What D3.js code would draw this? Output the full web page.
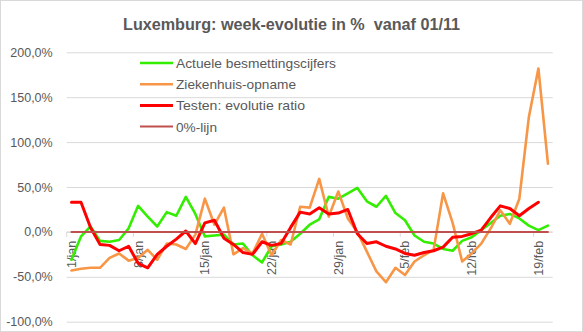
<!DOCTYPE html>
<html>
<head>
<meta charset="utf-8">
<script src="https://cdn.jsdelivr.net/npm/d3@7"></script>
<style>
  html, body { margin: 0; padding: 0; background: #fff; }
  svg { display: block; font-family: "Liberation Sans", Arial, sans-serif; }
</style>
</head>
<body>
<svg id="chart" width="583" height="332"></svg>
<script>
const categories = ["1/jan","2/jan","3/jan","4/jan","5/jan","6/jan","7/jan","8/jan","9/jan","10/jan",
  "11/jan","12/jan","13/jan","14/jan","15/jan","16/jan","17/jan","18/jan","19/jan","20/jan",
  "21/jan","22/jan","23/jan","24/jan","25/jan","26/jan","27/jan","28/jan","29/jan","30/jan",
  "31/jan","1/feb","2/feb","3/feb","4/feb","5/feb","6/feb","7/feb","8/feb","9/feb",
  "10/feb","11/feb","12/feb","13/feb","14/feb","15/feb","16/feb","17/feb","18/feb","19/feb","20/feb"];
const tickLabels = ["1/jan","8/jan","15/jan","22/jan","29/jan","5/feb","12/feb","19/feb"];
const yTicks = [-100, -50, 0, 50, 100, 150, 200];

const besmetting = [-31,-5,6,-10,-11,-9,4,29,17,6,22,18,39,20,-5,-4,-3,-14,-13,-26,
  -34,-16,-14,-11,-2,8,14,39,37,43,49,34,28,40,21,13,-4,-11,-13,-19,
  -21,-10,-6,2,10,18,20,15,7,2,7];
const ziekenhuis = [-43,-41,-40,-40,-29,-24,-32,-29,-20,-31,-13,-14,-19,-3,37,8,27,-25,-18,-24,
  -2,-26,-9,-14,28,27,59,17,45,15,0,-22,-44,-56,-40,-48,-33,-26,-20,43,
  10,-33,-24,-13,4,24,9,37,128,182,76];
const testen = [33,33,5,-14,-15,-21,-16,-35,-40,-25,-16,-8,1,-13,10,13,-7,-14,-23,-25,
  -11,-15,-13,5,22,20,27,20,21,25,-2,-13,-11,-16,-19,-24,-26,-23,-21,-17,
  -6,-5,-2,2,16,29,26,18,26,33];
const nulLijn = categories.map(() => 0);

const series = [
  { name: "Actuele besmettingscijfers", values: besmetting, color: "#33EE00", width: 2.6 },
  { name: "Ziekenhuis-opname", values: ziekenhuis, color: "#F79646", width: 2.6 },
  { name: "Testen: evolutie ratio", values: testen, color: "#FF0000", width: 3 },
  { name: "0%-lijn", values: nulLijn, color: "#C0504D", width: 2 }
];
const legendTextWidths = [160, 120, 129, 41];

const svg = d3.select("#chart");
const W = 583, H = 332;
const plot = { left: 66.7, right: 552.7, top: 52.3, bottom: 321.7 };
const textColor = "#595959";

// outer border
svg.append("rect").attr("x", 0.5).attr("y", 0.5).attr("width", W - 1).attr("height", H - 1)
  .attr("fill", "#fff").attr("stroke", "#D9D9D9");

const x = d3.scaleBand().domain(categories).range([plot.left, plot.right]).padding(0);
const y = d3.scaleLinear().domain([-100, 200]).range([plot.bottom, plot.top]);

// gridlines + y labels
const yAxis = d3.axisLeft(y).tickValues(yTicks).tickSize(-(plot.right - plot.left))
  .tickFormat(d => d.toFixed(1).replace(".", ",") + "%").tickPadding(14);
const gy = svg.append("g").attr("transform", `translate(${plot.left},0)`).call(yAxis);
gy.select(".domain").remove();
gy.selectAll(".tick line").attr("stroke", "#D9D9D9").attr("stroke-width", 1);
gy.selectAll(".tick text").attr("fill", textColor).attr("font-size", "12.5px")
  .attr("font-family", "Liberation Sans, Arial, sans-serif");

// x axis at 0
const x0 = y(0);
svg.append("line").attr("x1", plot.left).attr("x2", plot.right).attr("y1", x0).attr("y2", x0)
  .attr("stroke", "#D9D9D9");
const tickCats = categories.filter(c => tickLabels.includes(c));
svg.selectAll(".xtick").data(tickCats).enter().append("line")
  .attr("x1", d => x(d)).attr("x2", d => x(d))
  .attr("y1", x0).attr("y2", x0 + 5).attr("stroke", "#D9D9D9");
svg.selectAll(".xlab").data(tickCats).enter().append("text")
  .attr("transform", d => `translate(${x(d) + x.bandwidth() / 2 + 4.5},${x0 + 9}) rotate(-90)`)
  .attr("text-anchor", "end").attr("fill", textColor).attr("font-size", "12.5px")
  .text(d => d);

// lines
const line = d3.line().x((d, i) => x(categories[i]) + x.bandwidth() / 2).y(d => y(d));
series.forEach(s => {
  svg.append("path").datum(s.values).attr("d", line).attr("fill", "none")
    .attr("stroke", s.color).attr("stroke-width", s.width)
    .attr("stroke-linejoin", "round").attr("stroke-linecap", "round");
});

// title
svg.append("text").attr("x", 123).attr("y", 30)
  .attr("font-weight", "bold").attr("font-size", "16px").attr("fill", textColor)
  .attr("textLength", 337).attr("lengthAdjust", "spacingAndGlyphs")
  .style("white-space", "pre")
  .text("Luxemburg: week-evolutie in %  vanaf 01/11");

// legend
const lg = svg.append("g");
series.forEach((s, i) => {
  const ly = 63 + i * 21.2;
  lg.append("line").attr("x1", 140).attr("x2", 173).attr("y1", ly).attr("y2", ly)
    .attr("stroke", s.color).attr("stroke-width", s.width);
  lg.append("text").attr("x", 176).attr("y", ly + 5).attr("font-size", "13.5px")
    .attr("fill", textColor)
    .attr("textLength", legendTextWidths[i]).attr("lengthAdjust", "spacingAndGlyphs")
    .text(s.name);
});
</script>
</body>
</html>
